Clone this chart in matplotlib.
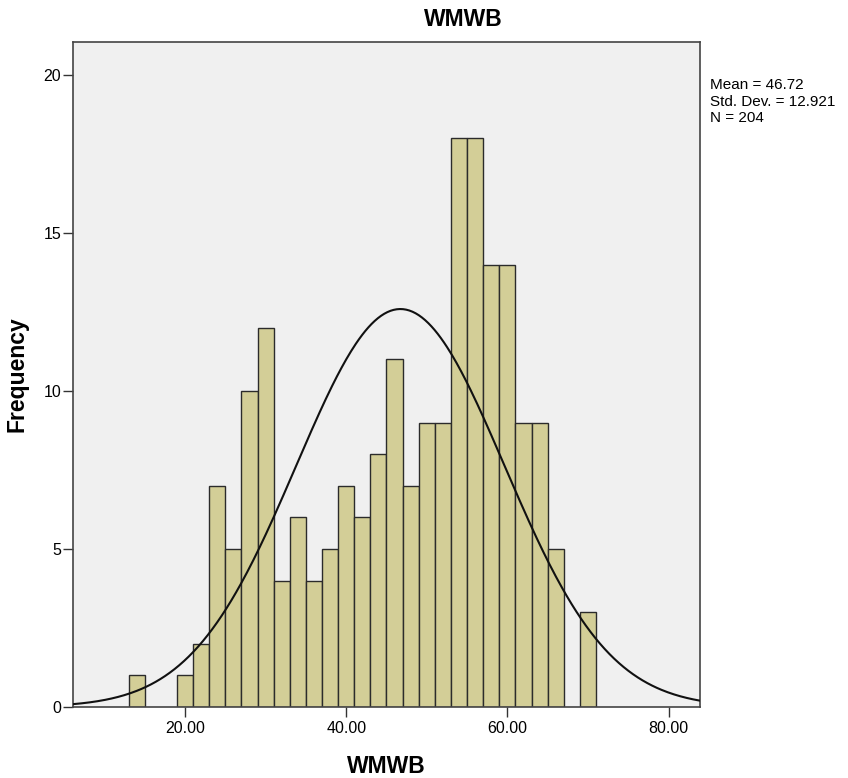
import numpy as np
import matplotlib

matplotlib.use("Agg")
import matplotlib.pyplot as plt  # noqa: E402

plt.rcParams["font.family"] = ["Liberation Sans", "DejaVu Sans"]

# histogram bins (left edges, width 2) and counts
bin_lefts = [13, 19, 21, 23, 25, 27, 29, 31, 33, 35, 37, 39, 41, 43, 45,
             47, 49, 51, 53, 55, 57, 59, 61, 63, 65, 69]
counts = [1, 1, 2, 7, 5, 10, 12, 4, 6, 4, 5, 7, 6, 8, 11,
          7, 9, 9, 18, 18, 14, 14, 9, 9, 5, 3]
bin_width = 2.0

mean, sd, n = 46.72, 12.921, 204
x_ticks = [20, 40, 60, 80]
y_ticks = [0, 5, 10, 15, 20]

fig = plt.figure(figsize=(8.48, 7.78), dpi=100)
ax = fig.add_axes([73 / 848, 1 - 707 / 778, 627 / 848, 665 / 778])
ax.set_facecolor("#F0F0F0")

ax.bar(bin_lefts, counts, width=bin_width, align="edge",
       color="#D3CE97", edgecolor="#2b2b2b", linewidth=1.0, zorder=2)

# normal curve scaled to counts
xs = np.linspace(6, 84, 400)
ys = n * bin_width / (sd * np.sqrt(2 * np.pi)) * np.exp(-0.5 * ((xs - mean) / sd) ** 2)
ax.plot(xs, ys, color="#111111", linewidth=1.5, zorder=3)

ax.set_xlim(6.1, 83.9)
ax.set_ylim(0, 21.05)
ax.set_xticks(x_ticks)
ax.set_xticklabels([f"{t:.2f}" for t in x_ticks], fontsize=11.5)
ax.set_yticks(y_ticks)
ax.set_yticklabels([str(t) for t in y_ticks], fontsize=11.5)
ax.tick_params(axis="x", direction="out", length=7, width=1, color="#333333", pad=3)
ax.tick_params(axis="y", direction="out", length=7, width=1, color="#333333", pad=1.5)

for side in ["left", "bottom", "top", "right"]:
    ax.spines[side].set_color("#444444")
    ax.spines[side].set_linewidth(1.2)

fig.text(463 / 848, 1 - 19 / 778, "WMWB", fontsize=16.5, fontweight="bold",
         ha="center", va="center")
ax.set_xlabel("WMWB", fontsize=16.5, fontweight="bold", labelpad=14)
ax.set_ylabel("Frequency", fontsize=16.5, fontweight="bold", labelpad=11)

fig.text(710 / 848, 1 - 78 / 778,
         f"Mean = {mean}\nStd. Dev. = {sd}\nN = {n}",
         fontsize=11, va="top", ha="left", linespacing=1.25)

fig.savefig("out.png", dpi=100)
